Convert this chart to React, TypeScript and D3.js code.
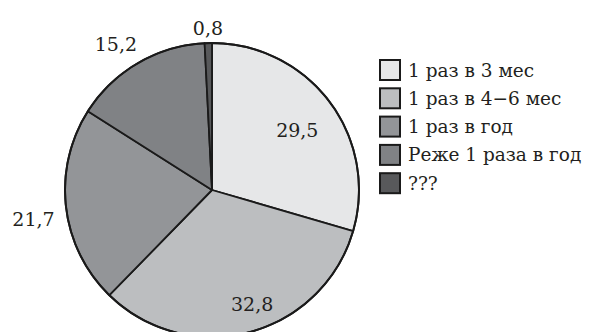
import React from "react";
import * as d3 from "d3";

const categories = [
  "1 раз в 3 мес",
  "1 раз в 4\u22126 мес",
  "1 раз в год",
  "Реже 1 раза в год",
  "???",
];
const values = [29.5, 32.8, 21.7, 15.2, 0.8];
const valueLabels = ["29,5", "32,8", "21,7", "15,2", "0,8"];
const colors = ["#e6e7e8", "#bcbec0", "#939598", "#808285", "#58595b"];

const W = 592;
const H = 332;
const cx = 212;
const cy = 190;
const R = 147;
// label placement: distance from the centre (fraction of radius) and a small angular nudge (degrees)
const labelRadius = [0.71, 0.82, 1.23, 1.19, 1.1];
const labelNudge = [1.7, -4.7, -2.5, -3.1, 0];

const textStyle = { fontFamily: "DejaVu Serif" };

export default function App() {
  const pie = d3
    .pie<number>()
    .sort(null)
    .value((d) => d);
  const arcs = pie(values);
  const arc = d3.arc<d3.PieArcDatum<number>>().innerRadius(0).outerRadius(R);

  const legendX = 380;
  const legendY = 60;
  const rowH = 28.3;
  const box = 20;

  return (
    <svg
      width={W}
      height={H}
      style={{ position: "absolute", left: 0, top: 0, background: "#fff" }}
    >
      <g transform={`translate(${cx},${cy})`}>
        {arcs.map((a, i) => (
          <path
            key={i}
            d={arc(a) || ""}
            fill={colors[i]}
            stroke="#1a1a1a"
            strokeWidth={1.8}
            strokeLinejoin="round"
          />
        ))}
        <circle r={R} fill="none" stroke="#1a1a1a" strokeWidth={2} />
        {arcs.map((a, i) => {
          const mid = (a.startAngle + a.endAngle) / 2 + (labelNudge[i] * Math.PI) / 180;
          const r = R * labelRadius[i];
          return (
            <text
              key={i}
              x={Math.sin(mid) * r}
              y={-Math.cos(mid) * r}
              textAnchor="middle"
              dominantBaseline="central"
              fontSize={19}
              fill="#231f20"
              style={textStyle}
            >
              {valueLabels[i]}
            </text>
          );
        })}
      </g>
      <g>
        {categories.map((c, i) => (
          <g key={i} transform={`translate(${legendX},${legendY + i * rowH})`}>
            <rect
              x={0}
              y={0}
              width={box}
              height={box}
              fill={colors[i]}
              stroke="#1a1a1a"
              strokeWidth={2}
            />
            <text
              x={box + 8}
              y={box / 2}
              dominantBaseline="central"
              fontSize={18.5}
              fill="#231f20"
              style={textStyle}
            >
              {c}
            </text>
          </g>
        ))}
      </g>
    </svg>
  );
}
